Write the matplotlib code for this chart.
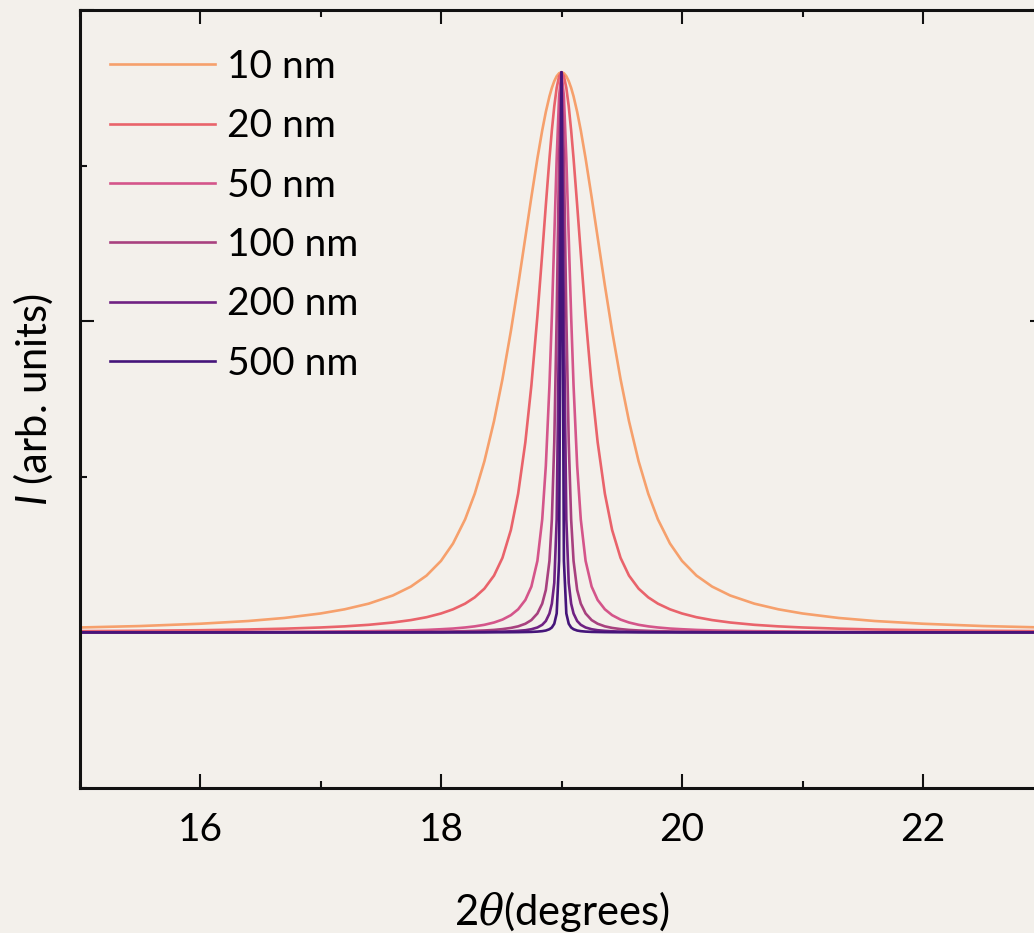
import matplotlib
matplotlib.use("Agg")
import matplotlib.pyplot as plt
from matplotlib.ticker import MultipleLocator

plt.rcParams['font.family'] = ['Lato', 'DejaVu Sans']
plt.rcParams['mathtext.fontset'] = 'custom'
plt.rcParams['mathtext.it'] = 'DejaVu Serif:italic'
plt.rcParams['mathtext.sf'] = 'Lato:italic'
plt.rcParams['mathtext.rm'] = 'Lato'

# 2theta sample positions (degrees)
two_theta = [15.0, 15.5, 16.0, 16.4, 16.7, 17.0, 17.2, 17.4, 17.6, 17.75, 17.88, 18.0,
             18.1, 18.2, 18.28, 18.36, 18.44, 18.51, 18.58, 18.64, 18.7, 18.75, 18.8,
             18.84, 18.87, 18.9, 18.92, 18.94, 18.96, 18.98,
             19.0,
             19.02, 19.04, 19.06, 19.08, 19.1, 19.13, 19.16, 19.2, 19.25, 19.3, 19.36,
             19.42, 19.49, 19.56, 19.64, 19.72, 19.8, 19.9, 20.0, 20.12, 20.25, 20.4,
             20.6, 20.8, 21.0, 21.3, 21.6, 22.0, 22.5, 23.0]

# intensity (arb. units) for each crystallite size
i_10nm = [0.0079, 0.0102, 0.0139, 0.0183, 0.0232, 0.0304, 0.0371, 0.0462, 0.0593, 0.0736,
          0.0913, 0.1149, 0.1429, 0.1816, 0.2228, 0.2749, 0.3395, 0.4069, 0.4843, 0.5574,
          0.6346, 0.6994, 0.7615, 0.8066, 0.8363, 0.8613, 0.8749, 0.8857, 0.8936, 0.8984,
          0.9,
          0.8984, 0.8936, 0.8857, 0.8749, 0.8613, 0.8363, 0.8066, 0.7615, 0.6994, 0.6346,
          0.5574, 0.4843, 0.4069, 0.3395, 0.2749, 0.2228, 0.1816, 0.1429, 0.1149, 0.0913,
          0.0736, 0.0593, 0.0462, 0.0371, 0.0304, 0.0232, 0.0183, 0.0139, 0.0102, 0.0079]
i_20nm = [0.0020, 0.0026, 0.0035, 0.0047, 0.0060, 0.0079, 0.0097, 0.0122, 0.0159, 0.0198,
          0.0244, 0.0304, 0.0371, 0.0462, 0.0563, 0.0703, 0.0913, 0.1198, 0.1646, 0.2228,
          0.3056, 0.3967, 0.5081, 0.6086, 0.6865, 0.7615, 0.8066, 0.8452, 0.8749, 0.8936,
          0.9,
          0.8936, 0.8749, 0.8452, 0.8066, 0.7615, 0.6865, 0.6086, 0.5081, 0.3967, 0.3056,
          0.2228, 0.1646, 0.1198, 0.0913, 0.0703, 0.0563, 0.0462, 0.0371, 0.0304, 0.0244,
          0.0198, 0.0159, 0.0122, 0.0097, 0.0079, 0.0060, 0.0047, 0.0035, 0.0026, 0.0020]
i_50nm = [0.0003, 0.0004, 0.0006, 0.0008, 0.0010, 0.0013, 0.0016, 0.0020, 0.0026, 0.0032,
          0.0040, 0.0051, 0.0062, 0.0079, 0.0097, 0.0122, 0.0159, 0.0206, 0.0277, 0.0371,
          0.0521, 0.0736, 0.1149, 0.1816, 0.2677, 0.3967, 0.5081, 0.6346, 0.7615, 0.8613,
          0.9,
          0.8613, 0.7615, 0.6346, 0.5081, 0.3967, 0.2677, 0.1816, 0.1149, 0.0736, 0.0521,
          0.0371, 0.0277, 0.0206, 0.0159, 0.0122, 0.0097, 0.0079, 0.0062, 0.0051, 0.0040,
          0.0032, 0.0026, 0.0020, 0.0016, 0.0013, 0.0010, 0.0008, 0.0006, 0.0004, 0.0003]
i_100nm = [0.0001, 0.0001, 0.0001, 0.0002, 0.0002, 0.0003, 0.0004, 0.0005, 0.0007, 0.0008,
           0.0010, 0.0013, 0.0016, 0.0020, 0.0025, 0.0031, 0.0040, 0.0053, 0.0072, 0.0097,
           0.0139, 0.0198, 0.0304, 0.0462, 0.0682, 0.1149, 0.1816, 0.3056, 0.5081, 0.7615,
           0.9,
           0.7615, 0.5081, 0.3056, 0.1816, 0.1149, 0.0682, 0.0462, 0.0304, 0.0198, 0.0139,
           0.0097, 0.0072, 0.0053, 0.0040, 0.0031, 0.0025, 0.0020, 0.0016, 0.0013, 0.0010,
           0.0008, 0.0007, 0.0005, 0.0004, 0.0003, 0.0002, 0.0002, 0.0001, 0.0001, 0.0001]
i_200nm = [0.0, 0.0, 0.0, 0.0, 0.0001, 0.0001, 0.0001, 0.0001, 0.0002, 0.0002,
           0.0003, 0.0003, 0.0004, 0.0005, 0.0006, 0.0008, 0.0010, 0.0013, 0.0018, 0.0025,
           0.0035, 0.0051, 0.0079, 0.0122, 0.0183, 0.0304, 0.0462, 0.0796, 0.1816, 0.5081,
           0.9,
           0.5081, 0.1816, 0.0796, 0.0462, 0.0304, 0.0183, 0.0122, 0.0079, 0.0051, 0.0035,
           0.0025, 0.0018, 0.0013, 0.0010, 0.0008, 0.0006, 0.0005, 0.0004, 0.0003, 0.0003,
           0.0002, 0.0002, 0.0001, 0.0001, 0.0001, 0.0001, 0.0, 0.0, 0.0, 0.0]
i_500nm = [0.0, 0.0, 0.0, 0.0, 0.0, 0.0, 0.0, 0.0, 0.0, 0.0,
           0.0, 0.0, 0.0001, 0.0001, 0.0001, 0.0001, 0.0002, 0.0002, 0.0003, 0.0004,
           0.0006, 0.0008, 0.0013, 0.0020, 0.0030, 0.0051, 0.0079, 0.0139, 0.0304, 0.1149,
           0.9,
           0.1149, 0.0304, 0.0139, 0.0079, 0.0051, 0.0030, 0.0020, 0.0013, 0.0008, 0.0006,
           0.0004, 0.0003, 0.0002, 0.0002, 0.0001, 0.0001, 0.0001, 0.0001, 0.0, 0.0,
           0.0, 0.0, 0.0, 0.0, 0.0, 0.0, 0.0, 0.0, 0.0, 0.0]

sizes = ['10 nm', '20 nm', '50 nm', '100 nm', '200 nm', '500 nm']
colors = ['#f6a06c', '#e9636b', '#d4558a', '#a8417f', '#702283', '#45157a']

bg = '#f3f0eb'
fig = plt.figure(figsize=(10.34, 9.33), dpi=100, facecolor=bg)
ax = fig.add_axes([79.5/1034, 145/933, 964/1034, 778/933], facecolor=bg)

for y, lab, c in zip([i_10nm, i_20nm, i_50nm, i_100nm, i_200nm, i_500nm], sizes, colors):
    ax.plot(two_theta, y, color=c, lw=1.9, label=lab)

ax.set_xlim(15, 23)
ax.set_ylim(-0.25, 1.0)

ax.xaxis.set_major_locator(MultipleLocator(2))
ax.xaxis.set_minor_locator(MultipleLocator(1))
ax.yaxis.set_major_locator(MultipleLocator(0.5))
ax.yaxis.set_minor_locator(MultipleLocator(0.25))
ax.tick_params(which='both', direction='in', top=True, right=True, width=1.5, color='#111111')
ax.tick_params(which='major', length=10)
ax.tick_params(which='minor', length=5)
ax.tick_params(axis='x', labelsize=28, pad=17)
ax.tick_params(axis='y', labelleft=False)
for s in ax.spines.values():
    s.set_linewidth(2.2)
    s.set_color('#111111')

ax.set_xlabel(r'2$\theta$(degrees)', fontsize=30, labelpad=30)
ax.set_ylabel(r'$\mathsf{I}$ (arb. units)', fontsize=30, labelpad=14)

ax.legend(loc='upper left', bbox_to_anchor=(0.032, 0.95), frameon=False,
          fontsize=28, handlelength=2.7, handletextpad=0.3, labelspacing=0.6,
          borderaxespad=0, borderpad=0)

fig.savefig('out.png', dpi=100, facecolor=bg)
